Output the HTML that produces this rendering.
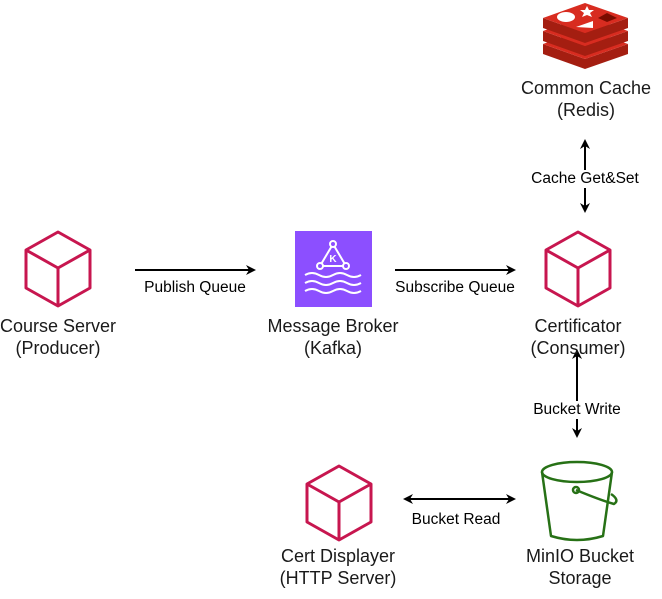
<!DOCTYPE html>
<html><head><style>
body{margin:0;width:662px;height:599px;background:#fff;position:relative;font-family:"Liberation Sans",sans-serif;overflow:hidden}
.t{position:absolute;font-size:18px;color:#1a1a1a;text-align:center;line-height:22px;white-space:nowrap;transform:translateX(-50%)}
.l{position:absolute;font-size:15.5px;color:#000;background:#fff;white-space:nowrap;line-height:18px;transform:translate(-50%,-50%)}
svg{position:absolute;left:0;top:0}
</style></head><body>
<svg width="662" height="599">
<defs>
<marker id="a" markerWidth="10" markerHeight="10" refX="8" refY="5" orient="auto-start-reverse" markerUnits="userSpaceOnUse"><path d="M0,0 L10,5 L0,10 L3,5z" fill="#000"/></marker>
<g id="cube" fill="none" stroke="#c7164f" stroke-width="3" stroke-linejoin="round"><path d="M34,2 L66,20 L66,58 L34,76 L2,58 L2,20Z M2,20 L34,38 L66,20 M34,38 L34,76"/></g>
<g id="lay"><path d="M543,18 L585,33 L628,18 L628,28 L585,43 L543,28Z" fill="#a41e11"/><path d="M543,18 L585,3 L628,18 L585,33Z" fill="#d82c20"/></g>
</defs>
<use href="#cube" x="24" y="230"/>
<use href="#cube" x="544" y="230"/>
<use href="#cube" x="305" y="464"/>
<rect x="295" y="231" width="77" height="76" fill="#8c4fff"/>
<g fill="none" stroke="#fff" stroke-width="2"><path d="M333,244 L320,266 L346,266Z"/><circle cx="333" cy="244" r="3" fill="#8c4fff"/><circle cx="320" cy="266" r="3" fill="#8c4fff"/><circle cx="346" cy="266" r="3" fill="#8c4fff"/>
<path d="M305,275 q7,-4 14,0 t14,0 t14,0 t14,0"/><path d="M305,283 q7,-4 14,0 t14,0 t14,0 t14,0"/><path d="M305,291 q7,-4 14,0 t14,0 t14,0 t14,0"/></g>
<text x="333" y="262" font-size="10" fill="#fff" text-anchor="middle" font-family="Liberation Sans" font-weight="bold">K</text>
<use href="#lay" y="26"/>
<use href="#lay" y="13"/>
<use href="#lay"/>
<ellipse cx="566" cy="17" rx="9" ry="5" fill="#fff"/>
<path d="M587,6 l2,4 5,0 -4,3 2,4 -5,-2 -5,2 2,-4 -4,-3 5,0z" fill="#fff"/>
<path d="M576,27 L593,21 L593,28Z" fill="#fff"/>
<path d="M598,18 L607,13 L617,18 L607,22Z" fill="#7a0c00"/>
<g fill="none" stroke="#277116" stroke-width="2.5" stroke-linejoin="round">
<ellipse cx="577" cy="472" rx="35" ry="10"/>
<path d="M542,472 L551,536 Q577,544 603,536 L612,472"/>
<path d="M576,490 Q600,500 614,504 Q620,500 611,494"/>
<circle cx="576" cy="490" r="3"/>
</g>
<g stroke="#000" stroke-width="2" fill="none">
<line x1="135" y1="270" x2="254" y2="270" marker-end="url(#a)"/>
<line x1="395" y1="270" x2="514" y2="270" marker-end="url(#a)"/>
<line x1="585" y1="141" x2="585" y2="211" marker-start="url(#a)" marker-end="url(#a)"/>
<line x1="577" y1="351" x2="577" y2="436" marker-start="url(#a)" marker-end="url(#a)"/>
<line x1="405" y1="499" x2="514" y2="499" marker-start="url(#a)" marker-end="url(#a)"/>
</g>
</svg>
<div class="l" style="left:195px;top:288px">Publish Queue</div>
<div class="l" style="left:455px;top:288px">Subscribe Queue</div>
<div class="l" style="left:585px;top:179px">Cache Get&amp;Set</div>
<div class="l" style="left:577px;top:410px">Bucket Write</div>
<div class="l" style="left:456px;top:520px">Bucket Read</div>
<div class="t" style="left:58px;top:315px">Course Server<br>(Producer)</div>
<div class="t" style="left:333px;top:315px">Message Broker<br>(Kafka)</div>
<div class="t" style="left:578px;top:315px">Certificator<br>(Consumer)</div>
<div class="t" style="left:586px;top:77px">Common Cache<br>(Redis)</div>
<div class="t" style="left:338px;top:545px">Cert Displayer<br>(HTTP Server)</div>
<div class="t" style="left:580px;top:545px">MinIO Bucket<br>Storage</div>
</body></html>
